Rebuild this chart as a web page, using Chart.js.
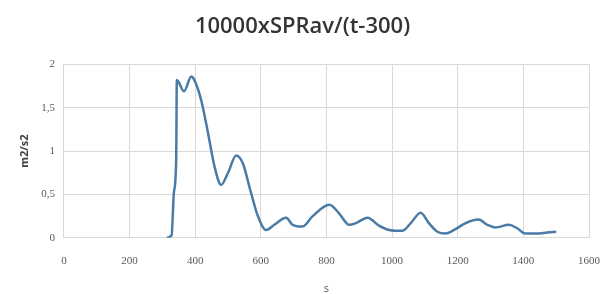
<!DOCTYPE html>
<html>
<head>
<meta charset="utf-8">
<script src="https://cdn.jsdelivr.net/npm/chart.js@4/dist/chart.umd.min.js"></script>
<style>
  html, body { margin: 0; padding: 0; background: #fff; }
  #chart { display: block; }
</style>
</head>
<body>
<canvas id="chart" width="608" height="294"></canvas>
<script>
// time (s) and values (m2/s2)
var times = [313, 328, 335, 342, 344, 366, 388, 396, 418, 439, 459, 479, 500, 525, 545, 570, 591, 616, 641, 677, 697, 727, 758, 809, 839, 869, 890, 925, 960, 991, 1031, 1057, 1087, 1112, 1138, 1163, 1193, 1224, 1264, 1290, 1315, 1356, 1381, 1406, 1437, 1472, 1500];
var values = [0, 0.03, 0.52, 0.9, 1.82, 1.69, 1.86, 1.83, 1.59, 1.21, 0.82, 0.61, 0.75, 0.95, 0.86, 0.52, 0.25, 0.09, 0.15, 0.23, 0.15, 0.13, 0.25, 0.38, 0.28, 0.15, 0.17, 0.23, 0.14, 0.09, 0.08, 0.17, 0.29, 0.17, 0.07, 0.05, 0.10, 0.17, 0.21, 0.15, 0.12, 0.15, 0.11, 0.05, 0.05, 0.06, 0.07];
var xTicks = [0, 200, 400, 600, 800, 1000, 1200, 1400, 1600];
var yTicks = [0, 0.5, 1, 1.5, 2];

var points = times.map(function (t, i) { return { x: t, y: values[i] }; });

new Chart(document.getElementById('chart'), {
  type: 'line',
  data: {
    datasets: [{
      data: points,
      borderColor: '#4a7ba6',
      borderWidth: 2.5,
      pointRadius: 0,
      tension: 0.4,
      cubicInterpolationMode: 'monotone'
    }]
  },
  options: {
    responsive: false,
    animation: false,
    layout: { padding: { left: 16, right: 19, top: 4, bottom: 0 } },
    plugins: {
      legend: { display: false },
      tooltip: { enabled: false },
      title: {
        display: true,
        text: '10000xSPRav/(t-300)',
        color: '#333333',
        font: { family: 'Open Sans', size: 22, weight: '600' },
        padding: { top: 10, bottom: 24 }
      }
    },
    scales: {
      x: {
        type: 'linear',
        min: 0,
        max: 1600,
        afterBuildTicks: function (axis) { axis.ticks = xTicks.map(function (v) { return { value: v }; }); },
        afterFit: function (axis) { axis.paddingLeft = 0; axis.paddingRight = 0; },
        ticks: {
          color: '#595959',
          font: { family: 'Liberation Serif', size: 11 },
          padding: 17,
          maxRotation: 0,
          callback: function (v) { return String(v); }
        },
        grid: { color: '#d9d9d9', drawTicks: false },
        border: { color: '#d9d9d9' },
        title: { display: true, text: 's', color: '#595959', font: { family: 'Open Sans', size: 11, lineHeight: 1 }, padding: { top: -2, bottom: 0 } }
      },
      y: {
        min: 0,
        max: 2,
        afterBuildTicks: function (axis) { axis.ticks = yTicks.map(function (v) { return { value: v }; }); },
        ticks: {
          color: '#595959',
          font: { family: 'Liberation Serif', size: 11 },
          padding: 9,
          callback: function (v) { return String(v).replace('.', ','); }
        },
        grid: { color: '#d9d9d9', drawTicks: false },
        border: { color: '#d9d9d9' },
        title: { display: true, text: 'm2/s2', color: '#404040', font: { family: 'Open Sans', size: 11, weight: 'bold' }, padding: { top: 2, bottom: 1 } }
      }
    }
  }
});
</script>
</body>
</html>
